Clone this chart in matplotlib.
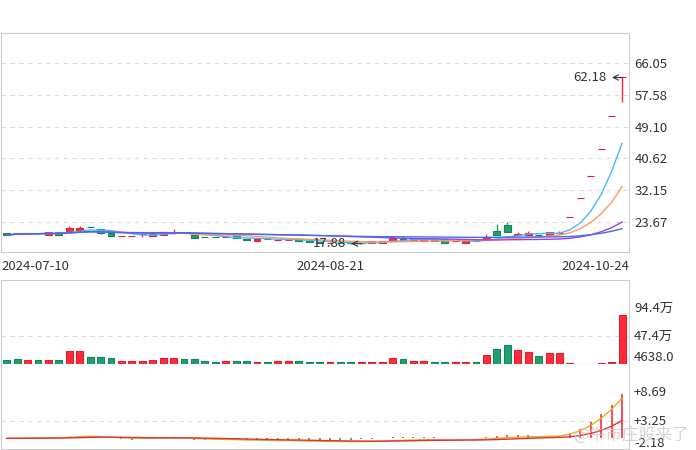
import matplotlib.pyplot as plt
import numpy as np
import pandas as pd

plt.rcParams['font.family'] = ['Noto Sans CJK SC', 'DejaVu Sans']

# Data
date_labels = ['2024-07-10', '2024-08-21', '2024-10-24']
date_pos = [0, 31, 59]

opens = [20.74, 20.68, 20.62, 20.68, 20.30, 21.00, 21.19, 21.54, 22.30, 21.73,
         20.66, 19.92, 19.92, 20.37, 20.02, 20.21, 20.66, 21.00, 20.21, 19.62,
         19.62, 19.57, 20.13, 19.22, 18.69, 19.08, 18.93, 18.85, 19.06, 18.87,
         18.30, 18.10, 18.20, 18.05, 17.95, 18.00, 18.20, 18.69, 19.22, 18.69,
         18.53, 18.90, 19.06, 18.51, 18.16, 18.55, 19.06, 21.19, 22.87, 20.21,
         20.21, 20.29, 20.21, 20.78, 24.99, 29.99, 35.98, 43.18, 51.82, 62.18]
closes = [20.21, 20.64, 20.66, 20.62, 21.00, 20.30, 21.99, 22.07, 22.24, 20.66,
          19.94, 19.96, 19.96, 20.41, 20.66, 21.00, 21.00, 20.74, 19.33, 19.58,
          19.58, 19.61, 19.41, 18.87, 19.14, 19.04, 18.97, 18.89, 18.69, 18.34,
          18.15, 18.20, 18.05, 17.95, 18.00, 18.50, 18.55, 19.49, 18.87, 19.22,
          19.06, 18.60, 18.16, 18.55, 18.87, 18.51, 19.75, 20.21, 21.00, 20.47,
          20.82, 20.20, 21.00, 20.82, 24.99, 29.99, 35.98, 43.18, 51.82, 62.18]
highs = [20.80, 20.70, 20.68, 20.70, 21.00, 21.05, 22.60, 22.60, 22.32, 21.75,
         20.66, 19.98, 19.98, 20.45, 20.70, 21.05, 21.73, 21.02, 20.25, 19.64,
         19.64, 19.63, 20.15, 19.25, 19.16, 19.10, 18.99, 18.91, 19.08, 18.90,
         18.33, 18.22, 18.22, 18.07, 18.02, 18.52, 18.58, 19.94, 19.94, 19.25,
         19.08, 18.92, 19.08, 18.57, 18.90, 18.57, 20.39, 23.14, 23.59, 21.00,
         21.27, 20.32, 21.05, 21.35, 24.99, 29.99, 35.98, 43.18, 51.82, 62.18]
lows = [20.15, 20.62, 20.60, 20.60, 20.28, 20.28, 21.10, 21.50, 22.20, 20.60,
        19.90, 19.90, 19.90, 19.67, 20.00, 20.15, 20.60, 20.70, 19.30, 19.55,
        19.55, 19.55, 19.38, 18.85, 18.66, 19.02, 18.91, 18.83, 18.66, 18.30,
        18.12, 18.08, 18.02, 17.92, 17.88, 17.98, 18.18, 18.66, 18.85, 18.66,
        18.50, 18.58, 18.14, 18.49, 18.14, 18.49, 19.04, 20.15, 20.95, 20.15,
        20.15, 20.15, 20.15, 20.60, 24.99, 29.99, 35.98, 43.18, 51.82, 55.65]
# volume in 万
volumes = [7.3, 8.9, 7.3, 7.3, 7.3, 7.3, 22.4, 22.4, 12.3, 12.3,
           10.6, 5.6, 5.6, 5.6, 7.3, 10.6, 10.6, 8.9, 8.9, 5.6,
           3.9, 5.6, 5.6, 5.6, 3.9, 3.9, 5.6, 5.6, 5.6, 3.9,
           3.9, 3.9, 3.9, 3.9, 3.9, 3.9, 3.9, 10.1, 8.4, 5.6,
           5.6, 3.9, 3.9, 3.9, 3.9, 3.9, 15.1, 25.7, 32.4, 24.0,
           20.6, 13.4, 19.0, 19.0, 1.6, 1.2, 0.9, 1.4, 3.9, 83.0]

price_ticks = [23.67, 32.15, 40.62, 49.10, 57.58, 66.05]
vol_ticks = [0.4638, 47.4, 94.4]
vol_tick_labels = ['4638.0', '47.4万', '94.4万']
macd_ticks = [-2.18, 3.25, 8.69]
macd_tick_labels = ['-2.18', '+3.25', '+8.69']

RED, RED_EDGE = '#ff2b3a', '#e0202e'
GREEN, GREEN_EDGE = '#21a06f', '#16845a'
FRAME = '#cccccc'
TXT = '#333333'
FS = 9.5

o = np.array(opens); c = np.array(closes)
h = np.array(highs); l = np.array(lows)
n = len(c)
x = np.arange(n)
prev = np.r_[c[0], c[:-1]]
up = np.where(c > o, True, np.where(c < o, False, c >= prev))
fill = [RED if u else GREEN for u in up]
edge = [RED_EDGE if u else GREEN_EDGE for u in up]

# moving averages and MACD from the closes
s = pd.Series(c)
ma5 = s.rolling(5, min_periods=1).mean()
ma10 = s.rolling(10, min_periods=1).mean()
ma30 = s.rolling(30, min_periods=1).mean()
ma60 = s.rolling(60, min_periods=1).mean()
dif = s.ewm(span=12, adjust=False).mean() - s.ewm(span=26, adjust=False).mean()
dea = dif.ewm(span=9, adjust=False).mean()
macd = 2 * (dif - dea)

fig = plt.figure(figsize=(6.96, 4.5), dpi=100)
W, H = 696.0, 450.0

def box(l_px, t_px, r_px, b_px):
    return [l_px / W, 1 - b_px / H, (r_px - l_px) / W, (b_px - t_px) / H]

xlim = ((1 - 6.7) / 10.43, (629 - 6.7) / 10.43)

# ---- price panel
ax = fig.add_axes(box(1, 33, 629, 252))
ax.set_xlim(*xlim)
ax.set_ylim(15.67, 74.04)
for yv in price_ticks:
    ax.axhline(yv, color='#dddddd', lw=0.8, ls=(0, (4, 4)), zorder=0)
ax.vlines(x, l, h, colors=fill, lw=1, zorder=2)
ax.bar(x, np.maximum(np.abs(c - o), 0.02), bottom=np.minimum(o, c), width=0.66,
       color=fill, edgecolor=edge, lw=0.8, zorder=3)
ax.plot(x, ma5, color='#4fb4ff', lw=1, zorder=4)
ax.plot(x, ma10, color='#ff9a63', lw=1, zorder=4)
ax.plot(x, ma30, color='#9b3fe0', lw=1, zorder=4)
ax.plot(x, ma60, color='#3c6ff0', lw=1, zorder=4)

imax = int(np.argmax(h)); imin = int(np.argmin(l))
for i, v in [(imax, h[imax]), (imin, l[imin])]:
    ax.annotate(f'{v:.2f}', xy=(i, v), xytext=(i - 1.5, v),
                ha='right', va='center', fontsize=FS, color=TXT, zorder=6,
                arrowprops=dict(arrowstyle='<-', color=TXT, lw=0.8, shrinkA=2, shrinkB=0))

ax.yaxis.tick_right()
ax.set_yticks(price_ticks)
ax.set_yticklabels([f'{v:.2f}' for v in price_ticks])
ax.tick_params(axis='y', length=0, pad=4, labelsize=FS, labelcolor=TXT)
ax.set_xticks([])
for sp in ax.spines.values():
    sp.set_color(FRAME)

# date labels
for lab, p, ha in zip(date_labels, date_pos, ['left', 'center', 'right']):
    xx = {'left': xlim[0], 'center': p, 'right': xlim[1]}[ha]
    ax.text(xx, -0.035, lab, transform=ax.get_xaxis_transform(), ha=ha, va='top',
            fontsize=FS, color=TXT)

# ---- lower frame
fr = fig.add_axes(box(1, 280, 629, 449))
fr.set_xticks([]); fr.set_yticks([])
fr.patch.set_alpha(0)
for sp in fr.spines.values():
    sp.set_color(FRAME)

# ---- volume panel
vax = fig.add_axes(box(1, 280, 629, 364.3))
vax.set_xlim(*xlim)
vax.set_ylim(0, 84.3 / 0.596)
vax.axhline(47.4, color='#dddddd', lw=0.8, ls=(0, (4, 4)), zorder=0)
vax.bar(x, volumes, width=0.66, color=fill, edgecolor=edge, lw=0.8)
vax.axis('off')
for v, lab in zip(vol_ticks, vol_tick_labels):
    vax.text(1.008, v, lab, transform=vax.get_yaxis_transform(), ha='left',
             va='bottom' if v < 1 else 'center', fontsize=FS, color=TXT)

# ---- MACD panel
max_ = fig.add_axes(box(1, 392, 629, 450))
max_.set_xlim(*xlim)
max_.set_ylim(-2.18, 8.69)
max_.axhline(3.25, color='#dddddd', lw=0.8, ls=(0, (4, 4)), zorder=0)
max_.vlines(x, 0, macd, colors=[RED if m >= 0 else GREEN for m in macd], lw=1.2)
max_.plot(x, dif, color='#d9b32c', lw=1)
max_.plot(x, dea, color='#e0303a', lw=1)
max_.axis('off')
for v, lab in zip(macd_ticks, macd_tick_labels):
    max_.text(1.008, v, lab, transform=max_.get_yaxis_transform(), ha='left',
              va='bottom' if v < 0 else 'center', fontsize=FS, color=TXT)

# watermark
fig.text(0.99, 0.033, '@牛市庄股来了', ha='right', va='center', fontsize=12,
         color='#c8c8c8', alpha=0.75)

fig.savefig('out.png', dpi=100)
